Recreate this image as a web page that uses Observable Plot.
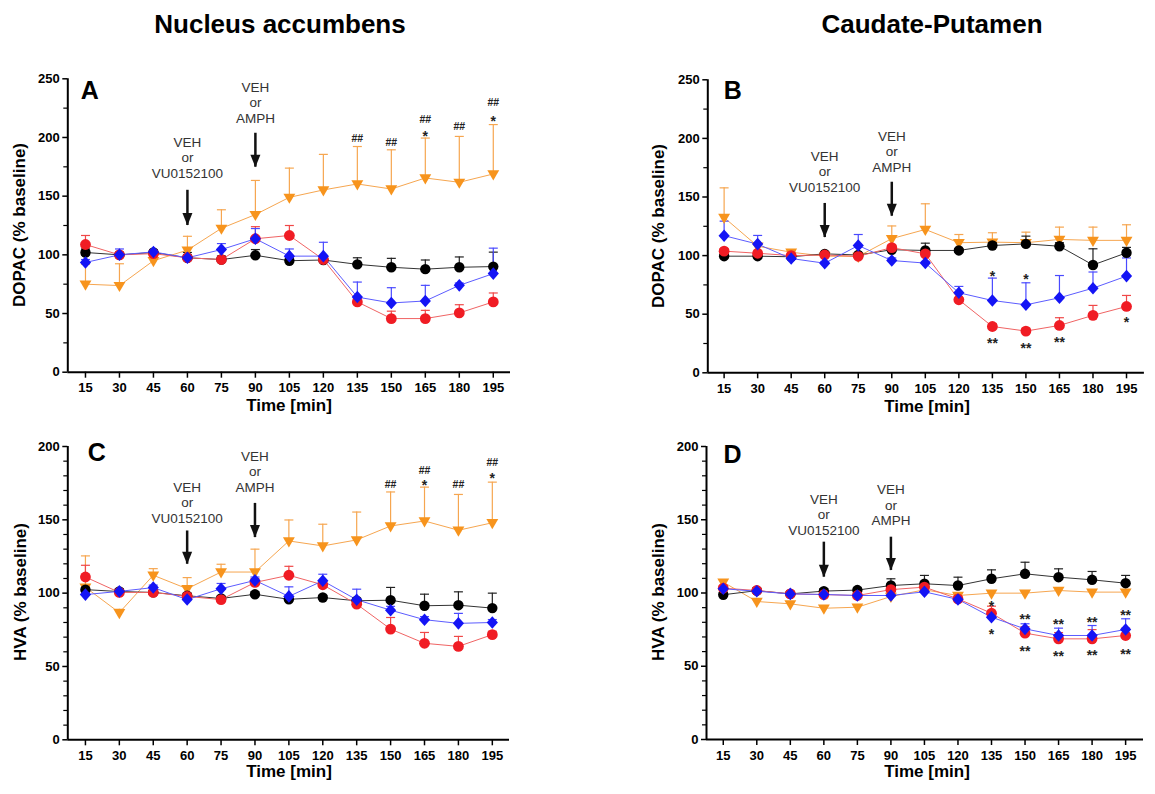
<!DOCTYPE html>
<html><head><meta charset="utf-8">
<script src="https://cdn.jsdelivr.net/npm/d3@7"></script>
<script src="https://cdn.jsdelivr.net/npm/@observablehq/plot@0.6"></script>
<style>
body{margin:0;background:#fff;}
#root{position:relative;width:1155px;height:794px;overflow:hidden;background:#fff;font-family:"Liberation Sans",Arial,sans-serif;color:#000;}
.panel{position:absolute;}
.title{position:absolute;font-weight:bold;font-size:26px;line-height:26px;transform:translateX(-50%);white-space:nowrap;}
.ylab{position:absolute;font-weight:bold;font-size:17px;line-height:17px;white-space:nowrap;transform:translate(-50%,-50%) rotate(-90deg);}
.xlab{position:absolute;font-weight:bold;font-size:17px;line-height:17px;white-space:nowrap;transform:translateX(-50%);}
</style></head>
<body><div id="root"></div>
<script>
// ---------- data ----------
const times = [15,30,45,60,75,90,105,120,135,150,165,180,195];

// Panel A: DOPAC, Nucleus accumbens (mean, mean+SEM)
const blackA   = [102,100,102,97.5,96,99.6,95,95.6,91.9,89.4,87.8,89.4,90];
const blackAup = [105,102,104,102,99,104.5,98,98,97.5,97,95.6,98.2,102.3];
const redA     = [108.8,100,101,97.5,96,113.7,116.5,96,59.9,45.7,45.7,50.5,59.9];
const redAup   = [116.5,102,103,100,98,124,125,99,63,52,52.7,57.5,67.5];
const blueA    = [93.5,100,102.5,97.5,104.5,113.7,98.9,98.9,64,59,60.7,74,84];
const blueAup  = [96,105,104,100,109.6,122.4,105,110.7,76.8,72,74,76,105.7];
const orangeA  = [75,73.8,95,104,122.6,134.3,149,155.3,160.4,156.1,165.5,161.8,168.9];
const orangeAup= [92,92.4,97,115.8,138.4,163.4,173.9,185.6,192.3,189.5,199.5,200.9,211];

// Panel B: DOPAC, Caudate-Putamen
const blackB   = [99.5,99.5,99,101.5,100.5,105,104.4,104.4,108.6,110,108,92,102.4];
const blackBup = [101,101,100,103,102,107,110.6,106,111,116.6,111,105.8,107];
const redB     = [103.8,102,100,100.5,99.4,106.8,101.5,62.3,39.5,35.6,40.4,49,56.6];
const redBup   = [106,104,102,102,101,109,103,64,42,38,47,57.5,66];
const blueB    = [117,109.8,97.5,93.5,108.6,95.8,93.6,68.3,61.7,58,64,72.2,82.5];
const blueBup  = [129.4,117.2,99,95,118,98,95,73.7,80.8,76.8,83,86,98];
const orangeB  = [132.5,108,102.9,99.5,99.3,114.5,122.3,111,111.5,111,113.8,113,113];
const orangeBup= [157.8,110,104,101,101,125.3,144.2,118,119.5,120,124.3,124.3,126.3];

// Panel C: HVA, Nucleus accumbens
const blackC   = [102.4,101.1,100.5,98.2,96.4,99.2,95.8,97,94.8,95.2,91.4,91.8,89.8];
const blackCup = [104,103,102,100,98,101,97.5,98.5,96.5,103.9,99.3,100.9,100];
const redC     = [111,100.5,100.5,97.8,95.6,107.3,112.2,105.7,92.5,75.5,65.8,63.7,71.7];
const redCup   = [119,102,102,99.5,97,110,118.3,108,94,83.4,73.2,70.5,74];
const blueC    = [99,101.2,103.8,95.6,103,108.7,97.8,108.4,95.5,88.4,81.9,79.4,80];
const blueCup  = [101,103,105.5,97,106.6,111,104.3,112.9,102.7,91,84,86.2,82];
const orangeC  = [104,86.7,112.2,103,114.4,114.4,135.6,132.2,136.3,145.8,149.2,142.9,148];
const orangeCup= [125.4,89,116.7,110.6,119.7,130,149.9,147,155.3,169,172.3,167.3,175.7];

// Panel D: HVA, Caudate-Putamen
const blackD   = [98.8,101.6,99.4,101.3,102,105.1,106.3,105.1,109.7,113.1,110.8,109,106.7];
const blackDup = [100.5,103.5,101,103,103.5,109.7,112,110.8,115.8,121,116.5,114.7,112];
const redD     = [103.3,101.7,99.4,98.9,98.3,102.3,104,96,86.2,72.6,68.7,68.7,71];
const redDup   = [105,103,101,100.5,100,104,106,98,91,77,73,75,76];
const blueD    = [102.9,101.2,99.4,99,98.3,98.3,100.8,95.6,83.5,75.5,71,71,75.1];
const blueDup  = [104.5,102.5,100.5,100.5,99.5,99.5,102,97,86,79,76,77.8,82.4];
const orangeD  = [107.4,94.2,92.6,89.6,90.3,97.6,102.2,98.3,99.9,99.9,101.7,100.6,100.6];
const orangeDup= [109,95.5,94,91,91.5,99,104,99.5,101,101,103,102,102];

// significance marks: [time, value, text]
const sigA = [[135,199,"##"],[150,196,"##"],[165,215,"##"],[165,204,"*"],[180,209.3,"##"],[195,230,"##"],[195,216.7,"*"]];
const sigB = [[135,85.3,"*"],[150,82.5,"*"],[135,28.2,"**"],[150,23.3,"**"],[165,29,"**"],[195,45.5,"*"]];
const sigC = [[150,174.1,"##"],[165,183.7,"##"],[165,175.7,"*"],[180,174.1,"##"],[195,188.9,"##"],[195,180.3,"*"]];
const sigD = [[135,93.3,"*"],[135,74,"*"],[150,84.2,"**"],[150,62.6,"**"],[165,80.8,"**"],[165,58.9,"**"],[180,82.4,"**"],[180,59.4,"**"],[195,86.9,"**"],[195,60.3,"**"]];

// injection annotations: [time, label, text middle value, arrow top value, arrow tip value]
const injA = [[60,"VEH\nor\nVU0152100",183,155,125],[90,"VEH\nor\nAMPH",229.8,203.6,174.7]];
const injB = [[60,"VEH\nor\nVU0152100",172,144.5,115.4],[90,"VEH\nor\nAMPH",188.8,162.6,133.6]];
const injC = [[60,"VEH\nor\nVU0152100",162,142.4,119.7],[90,"VEH\nor\nAMPH",183.2,161.2,137.9]];
const injD = [[60,"VEH\nor\nVU0152100",153.6,134.7,110.8],[90,"VEH\nor\nAMPH",160.2,138.1,115.4]];

const ticksDopacMajor = [0,50,100,150,200,250];
const ticksDopacMinor = [25,75,125,175,225];
const ticksHvaMajor = [0,50,100,150,200];
const ticksHvaMinor = [10,20,30,40,60,70,80,90,110,120,130,140,160,170,180,190];

// ---------- symbols ----------
const triDown = {draw(ctx, size){ const r=Math.sqrt(size/Math.PI); const s=r*1.35; ctx.moveTo(-s,-s*0.62); ctx.lineTo(s,-s*0.62); ctx.lineTo(0,s*1.1); ctx.closePath(); }};
const diamondSym = {draw(ctx, size){ const r=Math.sqrt(size/Math.PI); ctx.moveTo(0,-r*1.12); ctx.lineTo(r,0); ctx.lineTo(0,r*1.12); ctx.lineTo(-r,0); ctx.closePath(); }};
const capSym = {draw(ctx, size){ const r=Math.sqrt(size/Math.PI); ctx.moveTo(-r,0); ctx.lineTo(r,0); }};
const headSym = {draw(ctx, size){ const r=Math.sqrt(size/Math.PI); ctx.moveTo(0,0); ctx.lineTo(-r,-2.5*r); ctx.lineTo(r,-2.5*r); ctx.closePath(); }};

const styles = {
  orange:{mark:"#f7941d", line:"#f6a650", err:"#f6a650", symbol:triDown, r:4.4},
  black:{mark:"#000000", line:"#333333", err:"#222222", symbol:"circle", r:5.2},
  red:{mark:"#f01c24", line:"#f06464", err:"#f04848", symbol:"circle", r:5.4},
  blue:{mark:"#1414f5", line:"#5c5cff", err:"#4a4aff", symbol:diamondSym, r:5.6}
};

function rowsOf(mean, up){ return times.map((t,i)=>({t, v:mean[i], u:up[i]})); }

function panel(cfg){
  const series = [
    ["orange", rowsOf(cfg.orange[0], cfg.orange[1])],
    ["black", rowsOf(cfg.black[0], cfg.black[1])],
    ["red", rowsOf(cfg.red[0], cfg.red[1])],
    ["blue", rowsOf(cfg.blue[0], cfg.blue[1])]
  ];
  const marks = [];
  marks.push(Plot.ruleY([0], {stroke:"#000", strokeWidth:2}));
  marks.push(Plot.ruleX([cfg.xDomain[0]], {stroke:"#000", strokeWidth:2}));
  marks.push(Plot.axisX(times, {tickSize:6, tickPadding:5, fontSize:13, fontWeight:"bold", strokeWidth:1.5}));
  marks.push(Plot.axisY(cfg.yMajor, {tickSize:5, tickPadding:3, fontSize:13, fontWeight:"bold", strokeWidth:1.5}));
  marks.push(Plot.axisY(cfg.yMinor, {tickSize:4, tickFormat:()=>"", strokeWidth:1.2}));
  for (const [k, rows] of series) {
    const s = styles[k];
    marks.push(Plot.line(rows, {x:"t", y:"v", stroke:s.line, strokeWidth:1}));
  }
  for (const [k, rows] of series) {
    const s = styles[k];
    marks.push(Plot.ruleX(rows, {x:"t", y1:"v", y2:"u", stroke:s.err, strokeWidth:1.2}));
    marks.push(Plot.dot(rows, {x:"t", y:"u", symbol:capSym, r:4.5, stroke:s.err, strokeWidth:1.2, fill:"none"}));
  }
  for (const [k, rows] of series) {
    const s = styles[k];
    marks.push(Plot.dot(rows, {x:"t", y:"v", symbol:s.symbol, r:s.r, fill:s.mark, stroke:"none"}));
  }
  const inj = cfg.inj.map(([t,label,ty,top,tip])=>({t,label,ty,top,tip}));
  marks.push(Plot.text(inj, {x:"t", y:"ty", text:"label", lineAnchor:"middle", lineHeight:1.15, fontSize:13.5, fontWeight:"normal", fill:"#333"}));
  marks.push(Plot.ruleX(inj, {x:"t", y1:"top", y2:"tip", stroke:"#111", strokeWidth:2.5}));
  marks.push(Plot.dot(inj, {x:"t", y:"tip", symbol:headSym, r:5, fill:"#111", stroke:"none"}));
  const sig = cfg.sig.map(([t,y,s])=>({t,y,s}));
  marks.push(Plot.text(sig.filter(d=>d.s.startsWith("#")), {x:"t", y:"y", text:"s", fontSize:10.5, fontWeight:"bold", fill:"#222"}));
  marks.push(Plot.text(sig.filter(d=>d.s.startsWith("*")), {x:"t", y:"y", text:"s", fontSize:14, fontWeight:"bold", fill:"#222", dy:3.5}));
  marks.push(Plot.text([cfg.letter], {frameAnchor:"top-left", dx:cfg.letterDx, dy:cfg.letterDy, fontSize:25, fontWeight:"bold", fill:"#000"}));

  const svg = Plot.plot({
    width: cfg.width, height: cfg.height,
    marginLeft: cfg.mL, marginRight: cfg.mR, marginTop: cfg.mT, marginBottom: cfg.mB,
    x: {type:"linear", domain: cfg.xDomain, label:null},
    y: {type:"linear", domain: [0, cfg.yMax], label:null},
    style: {fontFamily:'"Liberation Sans", Arial, sans-serif', background:"transparent", overflow:"visible", color:"#000"},
    marks
  });
  const div = document.createElement("div");
  div.className = "panel";
  div.style.left = cfg.left + "px";
  div.style.top = cfg.top + "px";
  div.appendChild(svg);
  document.getElementById("root").appendChild(div);
}

panel({left:0, top:40, width:530, height:380, mL:67.3, mR:20, mT:38.3, mB:48.3,
  xDomain:[7.2,202.6], yMax:250, yMajor:ticksDopacMajor, yMinor:ticksDopacMinor,
  black:[blackA,blackAup], red:[redA,redAup], blue:[blueA,blueAup], orange:[orangeA,orangeAup],
  sig:sigA, inj:injA, letter:"A", letterDx:13, letterDy:2});
panel({left:640, top:40, width:515, height:380, mL:67.3, mR:11.1, mT:39.3, mB:47.7,
  xDomain:[7.7,203], yMax:250, yMajor:ticksDopacMajor, yMinor:ticksDopacMinor,
  black:[blackB,blackBup], red:[redB,redBup], blue:[blueB,blueBup], orange:[orangeB,orangeBup],
  sig:sigB, inj:injB, letter:"B", letterDx:16, letterDy:1});
panel({left:0, top:420, width:530, height:374, mL:67.3, mR:21, mT:26, mB:54.7,
  xDomain:[7.2,202.6], yMax:200, yMajor:ticksHvaMajor, yMinor:ticksHvaMinor,
  black:[blackC,blackCup], red:[redC,redCup], blue:[blueC,blueCup], orange:[orangeC,orangeCup],
  sig:sigC, inj:injC, letter:"C", letterDx:20, letterDy:-3});
panel({left:640, top:420, width:515, height:374, mL:66, mR:12, mT:26, mB:55,
  xDomain:[7.5,203], yMax:200, yMajor:ticksHvaMajor, yMinor:ticksHvaMinor,
  black:[blackD,blackDup], red:[redD,redDup], blue:[blueD,blueDup], orange:[orangeD,orangeDup],
  sig:sigD, inj:injD, letter:"D", letterDx:17, letterDy:-1});

// ---------- text labels ----------
function label(cls, text, x, y){
  const d = document.createElement("div");
  d.className = cls; d.textContent = text;
  d.style.left = x + "px"; d.style.top = y + "px";
  document.getElementById("root").appendChild(d);
}
label("title", "Nucleus accumbens", 280, 11);
label("title", "Caudate-Putamen", 932, 11);
label("ylab", "DOPAC (% baseline)", 19, 225);
label("ylab", "DOPAC (% baseline)", 658, 226);
label("ylab", "HVA (% baseline)", 20, 592);
label("ylab", "HVA (% baseline)", 658, 592);
label("xlab", "Time [min]", 289, 397);
label("xlab", "Time [min]", 927, 398);
label("xlab", "Time [min]", 289, 763);
label("xlab", "Time [min]", 927, 763);
</script>
</body></html>
